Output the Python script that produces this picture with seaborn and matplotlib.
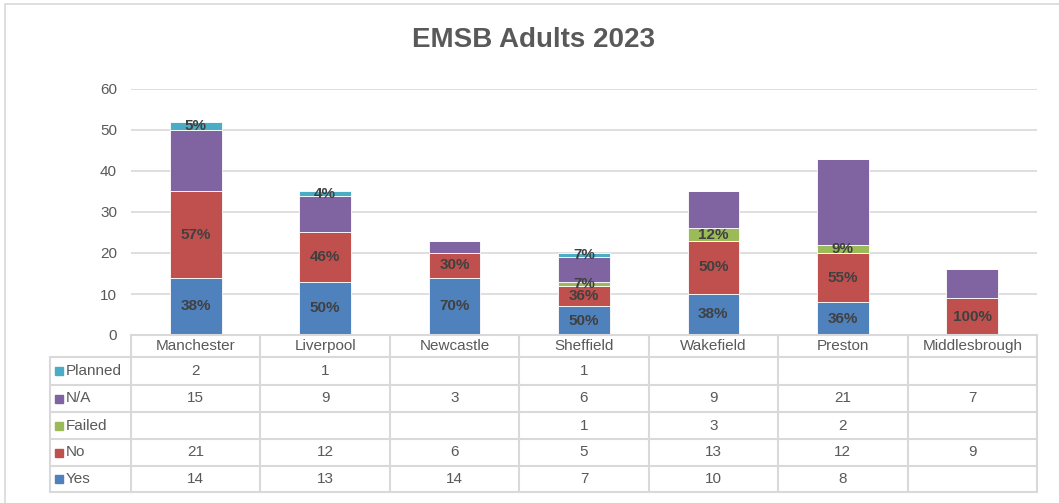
import matplotlib

matplotlib.use("Agg")
import matplotlib.pyplot as plt
import matplotlib.transforms as mtransforms
import numpy as np
import pandas as pd
import seaborn as sns
from matplotlib.patches import Rectangle

sites = ["Manchester", "Liverpool", "Newcastle", "Sheffield", "Wakefield", "Preston", "Middlesbrough"]
yes = [14, 13, 14, 7, 10, 8, 0]
no = [21, 12, 6, 5, 13, 12, 9]
failed = [0, 0, 0, 1, 3, 2, 0]
na = [15, 9, 3, 6, 9, 21, 7]
planned = [2, 1, 0, 1, 0, 0, 0]

# percentage labels as printed on the bars (N/A has none)
pct_yes = ["38%", "50%", "70%", "50%", "38%", "36%", None]
pct_no = ["57%", "46%", "30%", "36%", "50%", "55%", "100%"]
pct_failed = [None, None, None, "7%", "12%", "9%", None]
pct_planned = ["5%", "4%", None, "7%", None, None, None]

series = ["Yes", "No", "Failed", "N/A", "Planned"]
values = {"Yes": yes, "No": no, "Failed": failed, "N/A": na, "Planned": planned}
labels = {"Yes": pct_yes, "No": pct_no, "Failed": pct_failed, "N/A": [None] * 7, "Planned": pct_planned}
colors = {"Yes": "#4F81BD", "No": "#C0504D", "Failed": "#9BBB59", "N/A": "#8064A2", "Planned": "#4BACC6"}

df = pd.DataFrame({"site": sites, **values})
long = df.melt(id_vars="site", var_name="status", value_name="count")

sns.set_style("white")
plt.rcParams["font.family"] = ["Liberation Sans", "DejaVu Sans"]

W, H = 1059, 503
fig = plt.figure(figsize=(W / 100, H / 100), dpi=100)
ax_l, ax_r, ax_t, ax_b = 131, 1037, 89, 335
ax = fig.add_axes([ax_l / W, 1 - ax_b / H, (ax_r - ax_l) / W, (ax_b - ax_t) / H])

# outer chart border
fig.patches.append(Rectangle((5 / W, -0.05), 1.1, 1 - 4 / H + 0.05, transform=fig.transFigure,
                             fill=False, edgecolor="#D9D9D9", linewidth=1.2))

bottom = np.zeros(len(sites))
for s in series:
    sub = long[long["status"] == s]
    sns.barplot(data=sub, x="site", y="count", order=sites, bottom=bottom, color=colors[s],
                saturation=1, width=0.4, edgecolor="white", linewidth=0.6, errorbar=None,
                ax=ax, zorder=3)
    for i, lab in enumerate(labels[s]):
        if lab:
            ax.text(i, bottom[i] + values[s][i] / 2, lab, ha="center", va="center",
                    fontsize=11, fontweight="bold", color="#404040", zorder=5)
    bottom = bottom + np.array(values[s])

ax.set_ylim(0, 60)
ax.set_xlim(-0.5, len(sites) - 0.5)
ax.set_yticks(range(0, 61, 10))
ax.yaxis.grid(True, color="#D9D9D9", linewidth=1.2, zorder=0)
ax.set_axisbelow(True)
ax.tick_params(axis="y", length=0, pad=10, labelsize=11, labelcolor="#595959")
ax.tick_params(axis="x", length=0, labelbottom=False)
ax.set_xlabel("")
ax.set_ylabel("")
sns.despine(ax=ax, left=True, bottom=True)

fig.text(534 / W, 1 - 40 / H, "EMSB Adults 2023", ha="center", va="center",
         fontsize=20, fontweight="bold", color="#595959")

# data table below the chart
trans = mtransforms.blended_transform_factory(ax.transData, ax.transAxes)
px = (ax_r - ax_l) / len(sites)


def yfrac(py):
    return (ax_b - py) / (ax_b - ax_t)


def xdata(pxx):
    return -0.5 + (pxx - ax_l) / px


row_edges = [335, 357, 385, 412, 439, 466, 492]
x_left = xdata(50)
x_right = len(sites) - 0.5
line_kw = dict(color="#D9D9D9", linewidth=1.5, transform=trans, clip_on=False, zorder=4)

ax.plot([-0.5, x_right], [yfrac(row_edges[0])] * 2, **line_kw)
for py in row_edges[1:]:
    ax.plot([x_left, x_right], [yfrac(py)] * 2, **line_kw)
for i in range(len(sites) + 1):
    ax.plot([i - 0.5] * 2, [yfrac(row_edges[0]), yfrac(row_edges[-1])], **line_kw)
ax.plot([x_left] * 2, [yfrac(row_edges[1]), yfrac(row_edges[-1])], **line_kw)

txt_kw = dict(transform=trans, fontsize=11, color="#595959", va="center", clip_on=False)
hy = yfrac((row_edges[0] + row_edges[1]) / 2)
for i, site in enumerate(sites):
    ax.text(i, hy, site, ha="center", **txt_kw)

table_rows = ["Planned", "N/A", "Failed", "No", "Yes"]
for r, s in enumerate(table_rows):
    cy = yfrac((row_edges[r + 1] + row_edges[r + 2]) / 2)
    ax.plot([xdata(59)], [cy], marker="s", markersize=6, color=colors[s], linestyle="none",
            transform=trans, clip_on=False)
    ax.text(xdata(66), cy, s, ha="left", **txt_kw)
    for i, v in enumerate(values[s]):
        if v:
            ax.text(i, cy, str(v), ha="center", **txt_kw)

fig.savefig("out.png", dpi=100)
